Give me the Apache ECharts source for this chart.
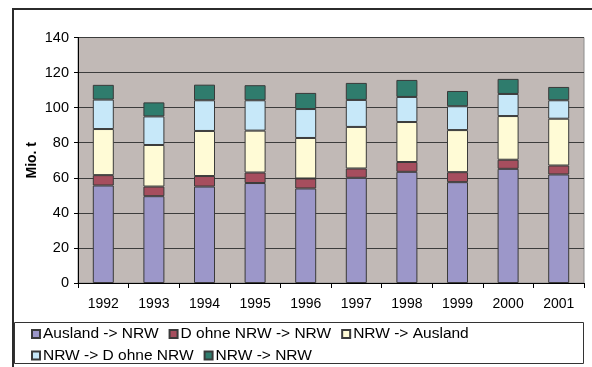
<!DOCTYPE html>
<html>
<head>
<meta charset="utf-8">
<script src="https://cdn.jsdelivr.net/npm/echarts@6/dist/echarts.min.js"></script>
<style>
  html, body { margin: 0; padding: 0; background: #ffffff; }
  #chart { width: 592px; height: 367px; }
</style>
</head>
<body>
<div id="chart"></div>
<script>
// Güterverkehr NRW, Mio. t, 1992–2001
const years = ['1992', '1993', '1994', '1995', '1996', '1997', '1998', '1999', '2000', '2001'];
const seriesNames = ['Ausland -> NRW', 'D ohne NRW -> NRW', 'NRW -> Ausland', 'NRW -> D ohne NRW', 'NRW -> NRW'];
const auslandNachNrw = [55.6, 49.5, 55.0, 57.0, 53.9, 60.0, 63.4, 57.5, 65.1, 61.9];
const dOhneNrwNachNrw = [5.9, 5.5, 6.0, 6.0, 5.7, 5.3, 5.6, 5.7, 5.2, 5.1];
const nrwNachAusland = [26.3, 23.7, 25.7, 23.9, 23.1, 23.7, 22.8, 24.0, 24.9, 26.7];
const nrwNachDOhneNrw = [16.8, 16.3, 17.5, 17.3, 16.5, 15.4, 14.3, 13.6, 12.6, 10.5];
const nrwNachNrw = [8.4, 8.0, 8.9, 8.6, 9.2, 9.7, 9.7, 8.7, 8.6, 7.6];
const yTicks = [0, 20, 40, 60, 80, 100, 120, 140];

const seriesValues = [auslandNachNrw, dOhneNrwNachNrw, nrwNachAusland, nrwNachDOhneNrw, nrwNachNrw];
const seriesColors = ['#9c97c9', '#a64e5e', '#fffbd6', '#c7e8f9', '#2f7c6d'];

const font = 'Liberation Sans, Arial, sans-serif';

const chart = echarts.init(document.getElementById('chart'), null, { renderer: 'canvas' });

const legendCommon = {
  orient: 'horizontal',
  left: 31,
  padding: 0,
  icon: 'rect',
  itemWidth: 8,
  itemHeight: 8,
  itemGap: 10,
  selectedMode: false,
  textStyle: { fontFamily: font, fontSize: 15.5, color: '#000', width: 165, padding: [0, 0, 0, -2] }
};

chart.setOption({
  animation: false,
  backgroundColor: '#ffffff',
  grid: { left: 78, right: 8, top: 37.5, bottom: 84, show: true, backgroundColor: '#c1b9b6', borderColor: '#8c8c8c', borderWidth: 1 },
  legend: [
    Object.assign({}, legendCommon, { top: 326, data: seriesNames.slice(0, 3) }),
    Object.assign({}, legendCommon, { top: 347.5, data: seriesNames.slice(3) })
  ],
  xAxis: {
    type: 'category',
    data: years,
    boundaryGap: true,
    axisLine: { show: true, lineStyle: { color: '#000', width: 1 } },
    axisTick: { show: true, length: 5, lineStyle: { color: '#000' } },
    axisLabel: { fontFamily: font, fontSize: 14, color: '#000', margin: 14 },
    splitLine: { show: false }
  },
  yAxis: {
    type: 'value',
    min: yTicks[0],
    max: yTicks[yTicks.length - 1],
    interval: yTicks[1] - yTicks[0],
    name: 'Mio. t',
    nameLocation: 'middle',
    nameGap: 39,
    nameMoveOverlap: false,
    nameTextStyle: { fontFamily: font, fontSize: 14, fontWeight: 'bold', color: '#000' },
    axisLine: { show: true, lineStyle: { color: '#000', width: 1 } },
    axisTick: { show: true, length: 4, lineStyle: { color: '#000' } },
    axisLabel: { fontFamily: font, fontSize: 14.5, color: '#000', margin: 9 },
    splitLine: { show: true, lineStyle: { color: '#3c3c3c', width: 1 } }
  },
  series: seriesNames.map((name, i) => ({
    name: name,
    type: 'bar',
    stack: 'gesamt',
    barWidth: 21,
    data: seriesValues[i],
    itemStyle: { color: seriesColors[i], borderColor: '#3a3a3a', borderWidth: 1 }
  })),
  graphic: [
    {
      type: 'polyline',
      shape: { points: [[13, 367], [13, 9], [592, 9]] },
      style: { stroke: '#2b2b2b', lineWidth: 2, fill: null },
      silent: true
    },
    {
      type: 'rect',
      shape: { x: 14.5, y: 322.5, width: 569, height: 41 },
      style: { stroke: '#333', lineWidth: 1, fill: null },
      silent: true,
      z: -1
    }
  ]
});
</script>
</body>
</html>
